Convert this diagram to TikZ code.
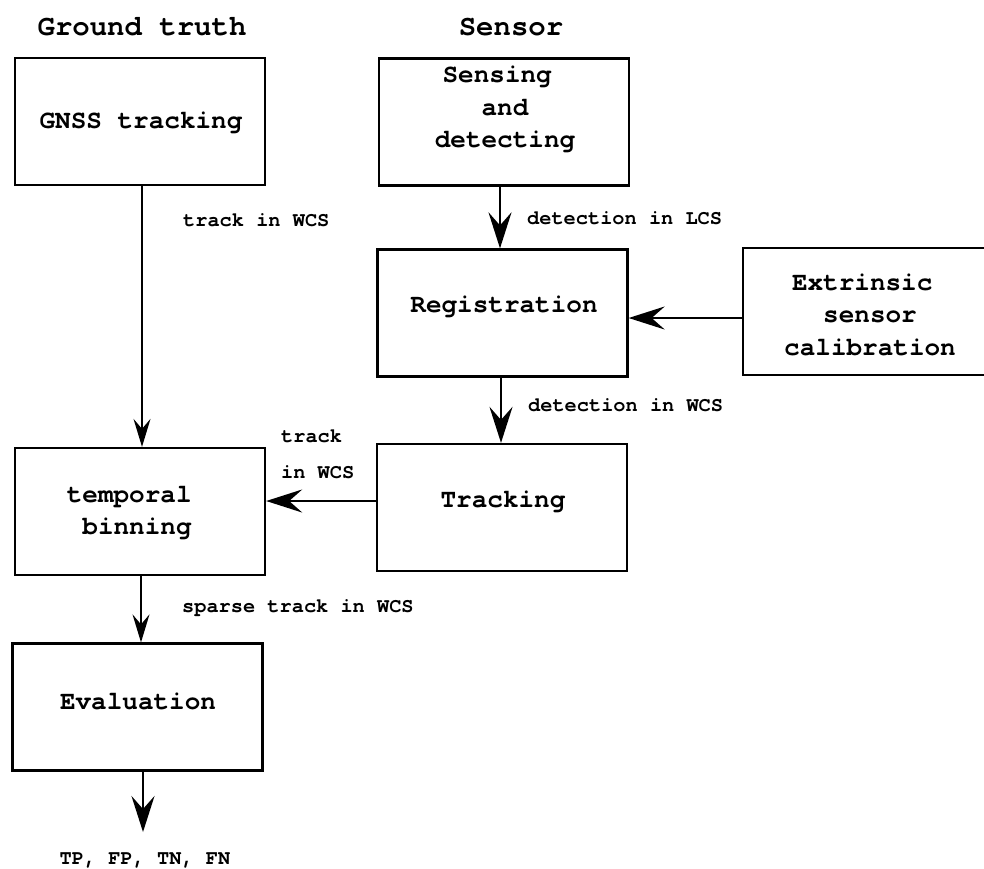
\documentclass[tikz,border=0pt]{standalone}
\usepackage{fontspec}
\setmainfont{texgyrecursor}[Extension=.otf, UprightFont=*-regular, BoldFont=*-bold]
\usetikzlibrary{arrows.meta}
\begin{document}
\begin{tikzpicture}[x=1pt,y=-1pt,
  box/.style={draw, line width=2.3pt, minimum width=250pt, minimum height=127pt, inner sep=0pt},
  boxtext/.style={font=\fontsize{26}{32.5}\selectfont\bfseries, align=center, inner sep=0pt},
  title/.style={font=\fontsize{29}{34}\selectfont\bfseries, inner sep=0pt},
  lbl/.style={font=\fontsize{20.3}{24}\selectfont\bfseries, inner sep=0pt, anchor=west},
  bigarrow/.style={line width=2.4pt, -{Stealth[length=36pt,width=23pt,inset=13pt]}},
  smallarrow/.style={line width=1.6pt, -{Stealth[length=28pt,width=17pt,inset=10pt]}}
]
\useasboundingbox (0,0) rectangle (984,868);

% titles
\node[title] (tgt) at (142,27) {Ground truth};
\node[title] (tsen) at (511,27) {Sensor};

% boxes
\node[box] (gnss)  at (140,121.5) {};
\node[box] (sense) at (504,122) {};
\node[box] (reg)   at (502.5,313) {};
\node[box] (ext)   at (868,311.5) {};
\node[box] (track) at (502,507.5) {};
\node[box] (bin)   at (140,511.5) {};
\node[box] (eval)  at (137.5,707) {};

% box texts
\node[boxtext] (gnssT)  at (141,123) {GNSS tracking};
\node[boxtext] (senseT) at (505,109.5) {Sensing\hphantom{x}\\and\\detecting};
\node[boxtext] (regT)   at (504,307) {Registration};
\node[boxtext] (extT)   at (870,314.5) {Extrinsic\hphantom{x}\\sensor\\calibration};
\node[boxtext] (trackT) at (503,502) {Tracking};
\node[boxtext] (binT)   at (137,513) {temporal\hphantom{x}\\binning};
\node[boxtext] (evalT)  at (138,701) {Evaluation};

% edge labels
\node[lbl] (l1) at (183,220) {track in WCS};
\node[lbl] (l2) at (527,218) {detection in LCS};
\node[lbl] (l3) at (528,405) {detection in WCS};
\node[lbl] (l4) at (281,436) {track};
\node[lbl] (l5) at (281,472) {in WCS};
\node[lbl] (l6) at (182,608) {sparse track in WCS};
\node[font=\fontsize{20.3}{24}\selectfont\bfseries, inner sep=0pt] (out) at (145,860) {TP, FP, TN, FN};
\coordinate (outc) at (143,832);

% connectors
\draw[smallarrow] ([xshift=2pt]gnss.south) -- ([xshift=2pt]gnss.south |- bin.north);
\draw[bigarrow] ([xshift=-4pt]sense.south) -- ([xshift=-4pt]sense.south |- reg.north);
\draw[bigarrow] ([xshift=-1.5pt]reg.south) -- ([xshift=-1.5pt]reg.south |- track.north);
\draw[bigarrow] ([yshift=-6.5pt]ext.west) -- ([yshift=-6.5pt]ext.west -| reg.east);
\draw[bigarrow] ([yshift=6.5pt]track.west) -- ([yshift=6.5pt]track.west -| bin.east);
\draw[smallarrow] ([xshift=1pt]bin.south) -- ([xshift=1pt]bin.south |- eval.north);
\draw[bigarrow] (outc |- eval.south) -- (outc);
\end{tikzpicture}
\end{document}
